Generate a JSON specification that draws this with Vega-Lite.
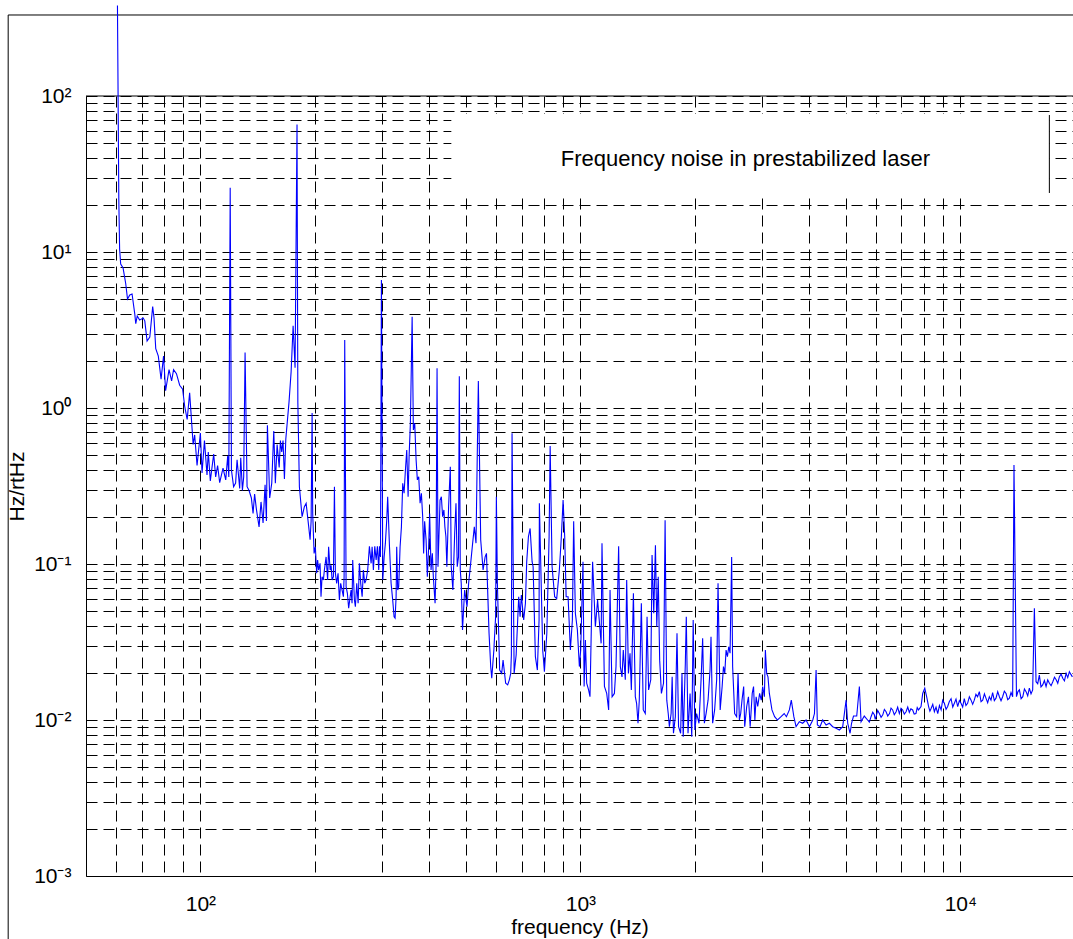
{
"$schema": "https://vega.github.io/schema/vega-lite/v6.json",
"width": 987, "height": 780,
"autosize": {"type": "none"},
"padding": {"left": 86, "top": 96, "right": 0, "bottom": 63},
"background": "white",
"config": {
 "view": {"stroke": null},
 "font": "Liberation Sans",
 "axis": {"labelFont": "Liberation Sans", "titleFont": "Liberation Sans", "labelColor": "#000", "titleColor": "#000", "domainColor": "#000", "domainWidth": 1, "gridColor": "#000", "gridDash": [11, 6], "gridWidth": 1, "gridOpacity": 1, "ticks": false, "tickSize": 0, "labelFontSize": 21, "titleFontSize": 21, "titleFontWeight": "normal", "labelOverlap": false, "labelFlush": false, "labelBound": false}
},
"layer": [
 {"data": {"values": [{}]}, "mark": {"type": "rule", "color": "#000", "strokeWidth": 1},
  "encoding": {"x": {"datum": 31.2, "type": "quantitative", "scale": {"type": "log", "domain": [50, 19790]}}, "y": {"datum": 330.6, "type": "quantitative", "scale": {"type": "log", "domain": [0.001, 100]}}, "y2": {"datum": 0.00001}}},
 {"data": {"values": [{}]}, "mark": {"type": "rule", "color": "#000", "strokeWidth": 1},
  "encoding": {"x": {"datum": 31.2, "type": "quantitative", "scale": {"type": "log", "domain": [50, 19790]}}, "x2": {"datum": 1000000}, "y": {"datum": 330.6, "type": "quantitative", "scale": {"type": "log", "domain": [0.001, 100]}}}},
 {"data": {"values": [{}]}, "mark": {"type": "rule", "color": "#000", "strokeWidth": 1.2},
  "encoding": {"x": {"datum": 50, "type": "quantitative", "scale": {"type": "log", "domain": [50, 19790]}}, "x2": {"datum": 1000000}, "y": {"datum": 100, "type": "quantitative", "scale": {"type": "log", "domain": [0.001, 100]}}}},
 {"data": {"values": [{}]}, "mark": {"type": "rect", "fill": "white", "stroke": null},
  "encoding": {"x": {"datum": 457.5, "type": "quantitative", "scale": {"type": "log", "domain": [50, 19790]}}, "x2": {"datum": 17150}, "y": {"datum": 76.7, "type": "quantitative", "scale": {"type": "log", "domain": [0.001, 100]}}, "y2": {"datum": 23.5}}},
 {"data": {"values": [{}]}, "mark": {"type": "rule", "color": "#000", "strokeWidth": 1},
  "encoding": {"x": {"datum": 17150, "type": "quantitative", "scale": {"type": "log", "domain": [50, 19790]}}, "y": {"datum": 75.5, "type": "quantitative", "scale": {"type": "log", "domain": [0.001, 100]}}, "y2": {"datum": 23.9}}},
 {"data": {"values": [{}]}, "mark": {"type": "text", "text": "Frequency noise in prestabilized laser", "font": "Liberation Sans", "fontSize": 22, "align": "center", "baseline": "middle", "color": "#000"},
  "encoding": {"x": {"datum": 2718, "type": "quantitative", "scale": {"type": "log", "domain": [50, 19790]}}, "y": {"datum": 39.4, "type": "quantitative", "scale": {"type": "log", "domain": [0.001, 100]}}}},
 {"data": {"values": [
{"freq":60.5,"asd":380},{"freq":61.0,"asd":21.5},{"freq":61.3,"asd":10.4},{"freq":61.7,"asd":8.37},{"freq":62.6,"asd":7.89},{"freq":63.6,"asd":6.28},{"freq":64.3,"asd":5.0},{"freq":65.2,"asd":5.3},{"freq":66.1,"asd":5.38},{"freq":67.2,"asd":4.0},{"freq":67.6,"asd":3.47},{"freq":68.2,"asd":3.89},{"freq":69.2,"asd":3.66},{"freq":70.7,"asd":3.78},{"freq":71.4,"asd":3.62},{"freq":72.4,"asd":2.69},{"freq":73.6,"asd":2.85},{"freq":74.9,"asd":4.47},{"freq":75.5,"asd":3.78},{"freq":76.3,"asd":2.40},{"freq":77.5,"asd":2.15},{"freq":78.8,"asd":1.53},{"freq":80.0,"asd":2.15},{"freq":81.0,"asd":1.29},{"freq":82.7,"asd":1.76},{"freq":84.0,"asd":1.49},{"freq":85.0,"asd":1.76},{"freq":86.5,"asd":1.66},{"freq":88.2,"asd":1.40},{"freq":89.8,"asd":1.32},{"freq":90.9,"asd":1.03},{"freq":92.3,"asd":0.844},{"freq":93.7,"asd":1.25},{"freq":95.7,"asd":0.584},{"freq":96.6,"asd":0.672},{"freq":98.0,"asd":0.428},{"freq":100,"asd":0.692},{"freq":101,"asd":0.383},{"freq":102.5,"asd":0.618},{"freq":104.1,"asd":0.372},{"freq":104.9,"asd":0.522},{"freq":106.2,"asd":0.341},{"freq":108.4,"asd":0.507},{"freq":109.7,"asd":0.361},{"freq":111.0,"asd":0.428},{"freq":112.4,"asd":0.332},{"freq":114.7,"asd":0.412},{"freq":116.6,"asd":0.346},{"freq":118.0,"asd":0.492},{"freq":118.8,"asd":0.361},{"freq":119.8,"asd":25.8},{"freq":120.7,"asd":0.40},{"freq":122.3,"asd":0.313},{"freq":123.8,"asd":0.33},{"freq":124.9,"asd":0.466},{"freq":126.9,"asd":0.305},{"freq":127.7,"asd":0.48},{"freq":129.0,"asd":0.296},{"freq":130.0,"asd":0.361},{"freq":131.1,"asd":2.27},{"freq":132.7,"asd":0.313},{"freq":134.3,"asd":0.296},{"freq":136.2,"asd":0.265},{"freq":137.6,"asd":0.211},{"freq":138.9,"asd":0.281},{"freq":140.4,"asd":0.225},{"freq":142.7,"asd":0.173},{"freq":144.4,"asd":0.25},{"freq":146.2,"asd":0.183},{"freq":148.0,"asd":0.322},{"freq":149.2,"asd":0.189},{"freq":150.1,"asd":0.774},{"freq":152.2,"asd":0.265},{"freq":154.1,"asd":0.33},{"freq":156.0,"asd":0.712},{"freq":157.5,"asd":0.33},{"freq":159.2,"asd":0.584},{"freq":161.2,"asd":0.416},{"freq":162.4,"asd":0.618},{"freq":163.7,"asd":0.522},{"freq":165.0,"asd":0.618},{"freq":166.4,"asd":0.351},{"freq":167.8,"asd":0.633},{"freq":169.7,"asd":0.868},{"freq":171.1,"asd":1.09},{"freq":173.3,"asd":1.71},{"freq":175.4,"asd":3.37},{"freq":177.5,"asd":1.81},{"freq":179.6,"asd":65.6},{"freq":180.5,"asd":1.09},
{"freq":182.2,"asd":0.313},{"freq":185.2,"asd":0.201},{"freq":187.8,"asd":0.233},{"freq":189.8,"asd":0.245},{"freq":192.8,"asd":0.173},{"freq":194.4,"asd":0.143},{"freq":195.6,"asd":0.188},{"freq":196.8,"asd":0.929},{"freq":197.5,"asd":0.211},{"freq":199.2,"asd":0.117},{"freq":200.7,"asd":0.129},{"freq":202.3,"asd":0.0872},{"freq":203.5,"asd":0.106},{"freq":204.7,"asd":0.0915},{"freq":206.5,"asd":0.101},{"freq":207.7,"asd":0.0617},{"freq":209.0,"asd":0.0829},{"freq":210.7,"asd":0.079},{"freq":212.0,"asd":0.0915},{"freq":214.2,"asd":0.111},{"freq":216.2,"asd":0.079},{"freq":217.5,"asd":0.129},{"freq":219.5,"asd":0.0915},{"freq":220.8,"asd":0.098},{"freq":222.1,"asd":0.079},{"freq":223.9,"asd":0.0829},{"freq":225.3,"asd":0.313},{"freq":226.6,"asd":0.0872},{"freq":228.4,"asd":0.0752},{"freq":230.3,"asd":0.0872},{"freq":232.2,"asd":0.0588},{"freq":234.0,"asd":0.0752},{"freq":236.0,"asd":0.0681},{"freq":237.9,"asd":0.0617},{"freq":238.9,"asd":0.0829},{"freq":239.8,"asd":2.73},{"freq":241.8,"asd":0.0715},{"freq":243.7,"asd":0.0649},{"freq":245.6,"asd":0.052},{"freq":247.8,"asd":0.0617},{"freq":249.2,"asd":0.0681},{"freq":250.7,"asd":0.056},{"freq":251.7,"asd":0.106},{"freq":254.3,"asd":0.0588},{"freq":255.8,"asd":0.0532},{"freq":257.9,"asd":0.0752},{"freq":260.1,"asd":0.056},{"freq":262.1,"asd":0.101},{"freq":264.2,"asd":0.0752},{"freq":266.5,"asd":0.0617},{"freq":268.5,"asd":0.0915},{"freq":270.7,"asd":0.0752},{"freq":273.0,"asd":0.079},{"freq":275.6,"asd":0.0915},{"freq":278.5,"asd":0.130},{"freq":281.4,"asd":0.101},{"freq":283.1,"asd":0.129},{"freq":285.3,"asd":0.0915},{"freq":287.7,"asd":0.130},{"freq":290.1,"asd":0.106},{"freq":292.3,"asd":0.13},{"freq":294.7,"asd":0.0915},{"freq":296.0,"asd":0.13},{"freq":297.8,"asd":0.111},{"freq":299.5,"asd":6.61},{"freq":302.0,"asd":0.079},{"freq":304.5,"asd":0.111},{"freq":306.8,"asd":0.136},{"freq":309.3,"asd":0.191},{"freq":311.1,"asd":0.27},{"freq":314.5,"asd":0.13},{"freq":317.6,"asd":0.0752},{"freq":320.7,"asd":0.0588},{"freq":323.4,"asd":0.0459},{"freq":325.4,"asd":0.045},{"freq":327.4,"asd":0.0617},{"freq":328.6,"asd":0.129},{"freq":330.6,"asd":0.0681},{"freq":332.6,"asd":0.0715},{"freq":335.4,"asd":0.129},{"freq":338.1,"asd":0.173},{"freq":340.8,"asd":0.329},{"freq":343.6,"asd":0.284},{"freq":346.4,"asd":0.40},{"freq":349.2,"asd":0.538},{"freq":352.1,"asd":0.27},{"freq":354.2,"asd":0.487},{"freq":357.0,"asd":0.798},{"freq":360.8,"asd":3.85},{"freq":363.5,"asd":0.723},{"freq":366.5,"asd":0.798},{"freq":369.6,"asd":0.464},{"freq":372.4,"asd":0.346},{"freq":375.5,"asd":0.363},{"freq":378.6,"asd":0.245},{"freq":381.6,"asd":0.284},{"freq":384.6,"asd":0.201},{"freq":386.8,"asd":0.117},{"freq":389.2,"asd":0.188},{"freq":392.6,"asd":0.143},{"freq":395.6,"asd":0.0829},{"freq":398.8,"asd":0.13},{"freq":401.2,"asd":0.211},{"freq":404.6,"asd":0.0915},{"freq":407.8,"asd":0.117},{"freq":410.2,"asd":0.0829},{"freq":414.6,"asd":0.056},{"freq":417.0,"asd":0.0961},{"freq":419.6,"asd":1.80},{"freq":422.0,"asd":0.0961},{"freq":427.3,"asd":0.257},{"freq":430.7,"asd":0.27},{"freq":434.0,"asd":0.201},{"freq":437.4,"asd":0.222},{"freq":440.0,"asd":0.173},{"freq":442.7,"asd":0.15},{"freq":445.3,"asd":0.0961},{"freq":450.0,"asd":0.233},{"freq":454.7,"asd":0.42},{"freq":457.3,"asd":0.0961},{"freq":461.8,"asd":0.0681},{"freq":466.9,"asd":0.157},{"freq":470.6,"asd":0.245},{"freq":474.2,"asd":0.0961},{"freq":477.8,"asd":0.111},{"freq":480.2,"asd":1.60},{"freq":483.0,"asd":0.0915},{"freq":485.8,"asd":0.0752},{"freq":489.6,"asd":0.0378},{"freq":495.9,"asd":0.0681},{"freq":503.2,"asd":0.0532},{"freq":508.1,"asd":0.0752},{"freq":514.4,"asd":0.101},{"freq":520.6,"asd":0.136},{"freq":525.9,"asd":0.173},{"freq":531.3,"asd":0.136},{"freq":538.9,"asd":1.49},{"freq":546.6,"asd":0.143},{"freq":554.6,"asd":0.0915},{"freq":561.5,"asd":0.111},{"freq":566.1,"asd":0.117},{"freq":575.0,"asd":0.036},{"freq":580.8,"asd":0.022},{"freq":584.5,"asd":0.0185},{"freq":592.0,"asd":0.0281},{"freq":598.3,"asd":0.0459},{"freq":601.1,"asd":0.27},{"freq":604.8,"asd":0.0752},{"freq":613.2,"asd":0.0209},{"freq":620.7,"asd":0.0199},{"freq":626.0,"asd":0.0242},{"freq":635.9,"asd":0.0172},{"freq":643.7,"asd":0.0168},{"freq":650.2,"asd":0.0181},{"freq":655.6,"asd":0.0199},{"freq":658.3,"asd":0.0261},{"freq":661.0,"asd":0.688},{"freq":669.4,"asd":0.0199},{"freq":677.6,"asd":0.0261},{"freq":688.2,"asd":0.0617},{"freq":694.0,"asd":0.0459},{"freq":699.4,"asd":0.0633},{"freq":709.3,"asd":0.0438},{"freq":716.8,"asd":0.056},{"freq":722.4,"asd":0.1035},{"freq":730.0,"asd":0.15},{"freq":737.5,"asd":0.169},{"freq":746.4,"asd":0.1035},{"freq":751.0,"asd":0.0961},{"freq":761.4,"asd":0.0255},{"freq":770.6,"asd":0.0209},{"freq":778.6,"asd":0.0438},{"freq":780.0,"asd":0.245},{"freq":796.0,"asd":0.0281},{"freq":804.2,"asd":0.0204},{"freq":816.1,"asd":0.036},{"freq":827.4,"asd":0.15},{"freq":832.7,"asd":0.571},{"freq":842.5,"asd":0.0961},{"freq":855.7,"asd":0.0617},{"freq":866.4,"asd":0.06},{"freq":880.4,"asd":0.0915},{"freq":891.2,"asd":0.15},{"freq":900.6,"asd":0.257},{"freq":909.4,"asd":0.15},{"freq":917.4,"asd":0.0617},{"freq":928.2,"asd":0.0617},{"freq":941.2,"asd":0.0281},{"freq":952.7,"asd":0.0438},{"freq":960.2,"asd":0.188},{"freq":970.1,"asd":0.0483},{"freq":982.0,"asd":0.0378},{"freq":994.0,"asd":0.022},{"freq":1002,"asd":0.0281},{"freq":1016,"asd":0.1035},{"freq":1023,"asd":0.0164},{"freq":1031,"asd":0.0326},{"freq":1039,"asd":0.0172},{"freq":1051,"asd":0.0156},{"freq":1060,"asd":0.0141},{"freq":1077,"asd":0.1035},{"freq":1095,"asd":0.0396},{"freq":1110,"asd":0.0588},{"freq":1134,"asd":0.031},{"freq":1140,"asd":0.136},{"freq":1157,"asd":0.0164},{"freq":1173,"asd":0.0148},{"freq":1187,"asd":0.0116},{"freq":1197,"asd":0.0681},{"freq":1212,"asd":0.0141},{"freq":1229,"asd":0.0148},{"freq":1241,"asd":0.022},{"freq":1251,"asd":0.0532},{"freq":1261,"asd":0.13},{"freq":1274,"asd":0.022},{"freq":1287,"asd":0.0189},{"freq":1297,"asd":0.0281},{"freq":1313,"asd":0.0181},{"freq":1324,"asd":0.079},{"freq":1338,"asd":0.0199},{"freq":1351,"asd":0.0268},{"freq":1362,"asd":0.0156},{"freq":1379,"asd":0.0649},{"freq":1395,"asd":0.0141},{"freq":1406,"asd":0.0128},{"freq":1418,"asd":0.00953},{"freq":1429,"asd":0.0134},{"freq":1447,"asd":0.056},{"freq":1464,"asd":0.0116},{"freq":1482,"asd":0.011},{"freq":1498,"asd":0.0459},{"freq":1512,"asd":0.0156},{"freq":1532,"asd":0.0181},{"freq":1544,"asd":0.114},{"freq":1560,"asd":0.0483},{"freq":1576,"asd":0.132},{"freq":1589,"asd":0.0396},{"freq":1603,"asd":0.0829},{"freq":1617,"asd":0.0242},{"freq":1634,"asd":0.0148},{"freq":1655,"asd":0.0172},{"freq":1671,"asd":0.191},{"freq":1688,"asd":0.0134},{"freq":1703,"asd":0.011},{"freq":1715,"asd":0.00906},{"freq":1733,"asd":0.011},{"freq":1744,"asd":0.0189},{"freq":1758,"asd":0.00822},{"freq":1778,"asd":0.0105},{"freq":1796,"asd":0.036},{"freq":1813,"asd":0.00906},{"freq":1836,"asd":0.00822},{"freq":1851,"asd":0.0199},{"freq":1865,"asd":0.00782},{"freq":1889,"asd":0.0231},{"freq":1900,"asd":0.0459},{"freq":1920,"asd":0.00822},{"freq":1944,"asd":0.0148},{"freq":1964,"asd":0.00782},{"freq":1981,"asd":0.0438},{"freq":2001,"asd":0.00863},{"freq":2023,"asd":0.011},{"freq":2052,"asd":0.00953},{"freq":2078,"asd":0.0181},{"freq":2098,"asd":0.0334},{"freq":2120,"asd":0.00953},{"freq":2142,"asd":0.011},{"freq":2168,"asd":0.0134},{"freq":2194,"asd":0.0209},{"freq":2207,"asd":0.0342},{"freq":2229,"asd":0.00953},{"freq":2256,"asd":0.0116},{"freq":2284,"asd":0.0181},{"freq":2303,"asd":0.0752},{"freq":2333,"asd":0.0116},{"freq":2361,"asd":0.0164},{"freq":2380,"asd":0.022},{"freq":2399,"asd":0.0199},{"freq":2418,"asd":0.0281},{"freq":2438,"asd":0.0255},{"freq":2457,"asd":0.0295},{"freq":2477,"asd":0.0268},{"freq":2501,"asd":0.111},{"freq":2516,"asd":0.022},{"freq":2547,"asd":0.011},{"freq":2578,"asd":0.0105},{"freq":2600,"asd":0.0199},{"freq":2621,"asd":0.01},{"freq":2642,"asd":0.011},{"freq":2663,"asd":0.0134},{"freq":2690,"asd":0.0164},{"freq":2707,"asd":0.00906},{"freq":2740,"asd":0.0122},{"freq":2769,"asd":0.0141},{"freq":2798,"asd":0.00906},{"freq":2833,"asd":0.0148},{"freq":2856,"asd":0.0164},{"freq":2879,"asd":0.01},{"freq":2901,"asd":0.0141},{"freq":2929,"asd":0.0122},{"freq":2963,"asd":0.0148},{"freq":2993,"asd":0.0134},{"freq":3018,"asd":0.0164},{"freq":3050,"asd":0.0141},{"freq":3068,"asd":0.0281},{"freq":3092,"asd":0.0199},{"freq":3117,"asd":0.0189},{"freq":3143,"asd":0.0148},{"freq":3193,"asd":0.0116},{"freq":3245,"asd":0.0105},{"freq":3302,"asd":0.01},{"freq":3374,"asd":0.0105},{"freq":3439,"asd":0.011},{"freq":3485,"asd":0.0105},{"freq":3548,"asd":0.0116},{"freq":3590,"asd":0.0134},{"freq":3646,"asd":0.0105},{"freq":3695,"asd":0.00906},{"freq":3769,"asd":0.00975},{"freq":3845,"asd":0.00953},{"freq":3926,"asd":0.01},{"freq":4007,"asd":0.00906},{"freq":4089,"asd":0.01},{"freq":4131,"asd":0.011},{"freq":4172,"asd":0.0209},{"freq":4205,"asd":0.00929},{"freq":4273,"asd":0.00906},{"freq":4342,"asd":0.01},{"freq":4433,"asd":0.00929},{"freq":4522,"asd":0.00953},{"freq":4613,"asd":0.00906},{"freq":4708,"asd":0.00885},{"freq":4804,"asd":0.00863},{"freq":4902,"asd":0.00906},{"freq":5004,"asd":0.0134},{"freq":5053,"asd":0.00953},{"freq":5126,"asd":0.00822},{"freq":5172,"asd":0.00953},{"freq":5234,"asd":0.0106},{"freq":5337,"asd":0.0106},{"freq":5423,"asd":0.0164},{"freq":5479,"asd":0.00975},{"freq":5586,"asd":0.0106},{"freq":5700,"asd":0.01},{"freq":5760,"asd":0.0097},{"freq":5821,"asd":0.0105},{"freq":5880,"asd":0.0112},{"freq":5938,"asd":0.0108},{"freq":5970,"asd":0.0101},{"freq":6000,"asd":0.0105},{"freq":6060,"asd":0.0115},{"freq":6121,"asd":0.011},{"freq":6185,"asd":0.0104},{"freq":6250,"asd":0.0108},{"freq":6310,"asd":0.0117},{"freq":6376,"asd":0.0113},{"freq":6440,"asd":0.0106},{"freq":6510,"asd":0.011},{"freq":6570,"asd":0.0119},{"freq":6634,"asd":0.0116},{"freq":6700,"asd":0.0108},{"freq":6775,"asd":0.0113},{"freq":6840,"asd":0.0121},{"freq":6910,"asd":0.011},{"freq":6980,"asd":0.0119},{"freq":7050,"asd":0.0116},{"freq":7120,"asd":0.0109},{"freq":7196,"asd":0.0113},{"freq":7270,"asd":0.0121},{"freq":7340,"asd":0.0112},{"freq":7410,"asd":0.0118},{"freq":7490,"asd":0.0116},{"freq":7560,"asd":0.0109},{"freq":7640,"asd":0.011},{"freq":7700,"asd":0.012},{"freq":7760,"asd":0.0116},{"freq":7880,"asd":0.0122},{"freq":7960,"asd":0.0148},{"freq":8060,"asd":0.016},{"freq":8152,"asd":0.0141},{"freq":8250,"asd":0.0122},{"freq":8315,"asd":0.0114},{"freq":8380,"asd":0.0119},{"freq":8460,"asd":0.0126},{"freq":8543,"asd":0.0113},{"freq":8630,"asd":0.0121},{"freq":8720,"asd":0.011},{"freq":8810,"asd":0.0124},{"freq":8900,"asd":0.0116},{"freq":8983,"asd":0.0134},{"freq":9077,"asd":0.0128},{"freq":9170,"asd":0.0117},{"freq":9260,"asd":0.0122},{"freq":9350,"asd":0.0131},{"freq":9453,"asd":0.0137},{"freq":9550,"asd":0.0121},{"freq":9643,"asd":0.0128},{"freq":9740,"asd":0.0136},{"freq":9840,"asd":0.0122},{"freq":9940,"asd":0.0133},{"freq":10040,"asd":0.0128},{"freq":10140,"asd":0.0121},{"freq":10240,"asd":0.0137},{"freq":10345,"asd":0.0124},{"freq":10450,"asd":0.0128},{"freq":10560,"asd":0.0141},{"freq":10670,"asd":0.0134},{"freq":10775,"asd":0.0126},{"freq":10880,"asd":0.0134},{"freq":10990,"asd":0.0146},{"freq":11100,"asd":0.0141},{"freq":11220,"asd":0.0152},{"freq":11335,"asd":0.0131},{"freq":11450,"asd":0.0134},{"freq":11570,"asd":0.0147},{"freq":11690,"asd":0.0137},{"freq":11800,"asd":0.0129},{"freq":11920,"asd":0.0141},{"freq":12040,"asd":0.0134},{"freq":12160,"asd":0.015},{"freq":12285,"asd":0.0133},{"freq":12410,"asd":0.0138},{"freq":12540,"asd":0.0152},{"freq":12670,"asd":0.0141},{"freq":12795,"asd":0.0133},{"freq":12920,"asd":0.0141},{"freq":13055,"asd":0.0153},{"freq":13190,"asd":0.0148},{"freq":13325,"asd":0.0135},{"freq":13460,"asd":0.0138},{"freq":13595,"asd":0.015},{"freq":13730,"asd":0.0141},{"freq":13840,"asd":0.431},{"freq":14050,"asd":0.0141},{"freq":14175,"asd":0.0152},{"freq":14300,"asd":0.0156},{"freq":14450,"asd":0.0137},{"freq":14600,"asd":0.0141},{"freq":14745,"asd":0.0158},{"freq":14890,"asd":0.0152},{"freq":15040,"asd":0.0143},{"freq":15190,"asd":0.016},{"freq":15345,"asd":0.0147},{"freq":15500,"asd":0.0156},{"freq":15660,"asd":0.052},{"freq":15820,"asd":0.0176},{"freq":15980,"asd":0.0171},{"freq":16140,"asd":0.0194},{"freq":16300,"asd":0.0163},{"freq":16470,"asd":0.0168},{"freq":16640,"asd":0.0179},{"freq":16810,"asd":0.0164},{"freq":16980,"asd":0.0181},{"freq":17150,"asd":0.0172},{"freq":17330,"asd":0.0166},{"freq":17510,"asd":0.0176},{"freq":17690,"asd":0.0188},{"freq":17870,"asd":0.0181},{"freq":18045,"asd":0.0172},{"freq":18220,"asd":0.0189},{"freq":18410,"asd":0.0197},{"freq":18600,"asd":0.0185},{"freq":18790,"asd":0.0178},{"freq":18980,"asd":0.0199},{"freq":19170,"asd":0.0187},{"freq":19360,"asd":0.0204},{"freq":19540,"asd":0.0196},{"freq":19720,"asd":0.0189}
 ]},
  "mark": {"type": "line", "color": "#0000ff", "strokeWidth": 1.1},
  "encoding": {
   "x": {"field": "freq", "type": "quantitative", "scale": {"type": "log", "domain": [50, 19790]},
    "axis": {"values": [50,60,70,80,90,100,200,300,400,500,600,700,800,900,1000,2000,3000,4000,5000,6000,7000,8000,9000,10000], "grid": true, "labelExpr": "datum.value == 100 ? '10²' : datum.value == 1000 ? '10³' : datum.value == 10000 ? '10⁴' : ''", "labelPadding": 17, "title": "frequency (Hz)", "titleY": 57, "titleBaseline": "alphabetic"}},
   "y": {"field": "asd", "type": "quantitative", "scale": {"type": "log", "domain": [0.001, 100]},
    "axis": {"values": [0.001,0.002,0.003,0.004,0.005,0.006,0.007,0.008,0.009,0.01,0.02,0.03,0.04,0.05,0.06,0.07,0.08,0.09,0.1,0.2,0.3,0.4,0.5,0.6,0.7,0.8,0.9,1,2,3,4,5,6,7,8,9,10,20,30,40,50,60,70,80,90,100], "grid": true, "labelExpr": "datum.value == 100 ? '10²' : datum.value == 10 ? '10¹' : datum.value == 1 ? '10⁰' : datum.value == 0.1 ? '10⁻¹' : datum.value == 0.01 ? '10⁻²' : datum.value == 0.001 ? '10⁻³' : ''", "labelPadding": 15, "title": "Hz/rtHz", "titleX": -63, "titleY": 390, "titleAngle": 270, "titleAlign": "center", "titleBaseline": "alphabetic"}}
  }
 }
]
}
